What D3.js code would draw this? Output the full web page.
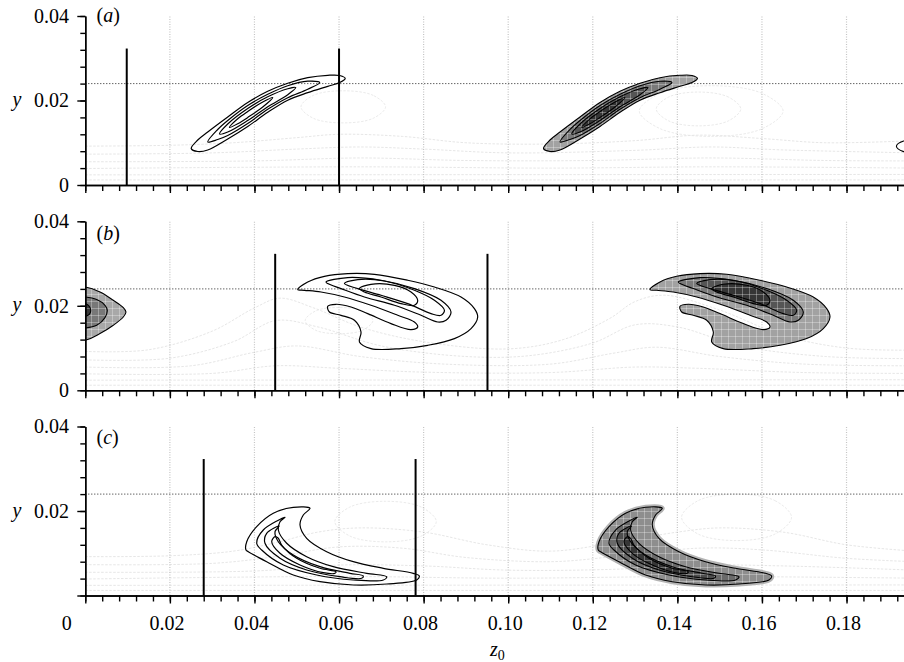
<!DOCTYPE html>
<html><head><meta charset="utf-8">
<script src="https://cdn.jsdelivr.net/npm/d3@7"></script>
<style>body{margin:0;background:#fff}svg{display:block}</style>
</head><body>
<svg id="c" width="904" height="662" font-family="'Liberation Serif','DejaVu Serif','Times New Roman',serif"></svg>
<script>
// ---------------- data ----------------
const panelLabels = ["a", "b", "c"];
const xMajorTicks = [0, 0.02, 0.04, 0.06, 0.08, 0.10, 0.12, 0.14, 0.16, 0.18];
const xTickLabels = ["0", "0.02", "0.04", "0.06", "0.08", "0.10", "0.12", "0.14", "0.16", "0.18"];
const yMajorTicks = [0, 0.02, 0.04];
const yTickLabels = ["0", "0.02", "0.04"];
const refLineY = 0.024;
const barTop = 0.0323;
const barsA = [0.0098, 0.0600];
const barsB = [0.0449, 0.0951];
const barsC = [0.0280, 0.0781];
const shift = 0.0833;   // distance between the open and the shaded contour sets

// panel (a): shaded contours (open set = same shapes, shifted back)
const aFill = [
 [[0.10835,0.00864],[0.10989,0.01065],[0.11225,0.01254],[0.11698,0.01609],[0.12171,0.01953],[0.12644,0.02218],[0.13117,0.02409],[0.13590,0.02540],[0.14063,0.02596],[0.14346,0.02592],[0.14476,0.02521],[0.14346,0.02426],[0.14063,0.02336],[0.13590,0.02185],[0.13117,0.02007],[0.12644,0.01721],[0.12171,0.01385],[0.11698,0.01089],[0.11225,0.00828],[0.10989,0.00793]],
 [[0.11225,0.01018],[0.11461,0.01314],[0.11698,0.01527],[0.12171,0.01882],[0.12644,0.02147],[0.13117,0.02350],[0.13590,0.02457],[0.13873,0.02426],[0.13590,0.02267],[0.13117,0.02066],[0.12644,0.01792],[0.12171,0.01456],[0.11698,0.01172],[0.11461,0.01077]],
 [[0.11502,0.01207],[0.11698,0.01444],[0.12171,0.01811],[0.12644,0.02088],[0.13117,0.02279],[0.13306,0.02308],[0.13117,0.02137],[0.12644,0.01851],[0.12171,0.01527],[0.11698,0.01254]],
 [[0.11738,0.01361],[0.11934,0.01567],[0.12171,0.01740],[0.12526,0.01964],[0.12762,0.02071],[0.12526,0.01846],[0.12171,0.01598],[0.11934,0.01449]]
];
const aEdge = [[0.200,0.0108],[0.1935,0.0104],[0.1918,0.0092],[0.1935,0.0079],[0.200,0.0076]];

// panel (b): shaded contours (open set = same shapes, shifted back)
const bFill = [
 [[0.13353,0.02384],[0.13589,0.02563],[0.13984,0.02698],[0.14535,0.02762],[0.15167,0.02746],[0.15954,0.02604],[0.16585,0.02445],[0.17214,0.02208],[0.17531,0.01934],[0.17609,0.01735],[0.17451,0.01460],[0.17058,0.01224],[0.16427,0.01065],[0.15796,0.00987],[0.15086,0.00987],[0.14812,0.01143],[0.14850,0.01380],[0.14694,0.01657],[0.14377,0.01775],[0.14103,0.01853],[0.14062,0.01988],[0.14259,0.02036],[0.14613,0.01972],[0.15008,0.01815],[0.15559,0.01579],[0.16032,0.01437],[0.16190,0.01498],[0.16112,0.01617],[0.15718,0.01775],[0.15086,0.02012],[0.14457,0.02208],[0.13904,0.02327],[0.13511,0.02367]],
 [[0.14022,0.02563],[0.14535,0.02668],[0.15323,0.02604],[0.16112,0.02407],[0.16741,0.02130],[0.16978,0.01853],[0.16860,0.01657],[0.16664,0.01617],[0.16269,0.01775],[0.15640,0.02012],[0.14930,0.02208],[0.14377,0.02407],[0.14062,0.02526]],
 [[0.14457,0.02526],[0.14772,0.02620],[0.15403,0.02587],[0.16112,0.02367],[0.16585,0.02130],[0.16822,0.01894],[0.16741,0.01775],[0.16505,0.01815],[0.15954,0.02052],[0.15323,0.02249],[0.14772,0.02407]],
 [[0.14812,0.02407],[0.15086,0.02509],[0.15640,0.02485],[0.16032,0.02327],[0.16190,0.02130],[0.16112,0.02012],[0.15796,0.02052],[0.15323,0.02208],[0.14930,0.02327]]
];
const bBlob = [
 [[-0.01,0.0245],[0,0.02445],[0.00348,0.02327],[0.00662,0.02130],[0.00899,0.01957],[0.00962,0.01853],[0.00899,0.01735],[0.00662,0.01539],[0.00348,0.01342],[0,0.01184],[-0.01,0.0118]],
 [[-0.01,0.0221],[0,0.02208],[0.00270,0.02147],[0.00466,0.02012],[0.00520,0.01894],[0.00466,0.01721],[0.00270,0.01539],[0,0.01475],[-0.01,0.0147]],
 [[-0.01,0.0205],[0,0.02052],[0.00095,0.01988],[0.00128,0.01877],[0.00095,0.01799],[0,0.01752],[-0.01,0.0175]]
];

// panel (c): open contours (shaded set = same shapes, shifted on)
const cOpen = [
 [[0.05313,0.02064],[0.04918,0.02088],[0.04445,0.01946],[0.04053,0.01629],[0.03817,0.01273],[0.03800,0.01077],[0.03854,0.01037],[0.04289,0.00800],[0.04918,0.00485],[0.05550,0.00327],[0.06337,0.00249],[0.07127,0.00272],[0.07836,0.00367],[0.07898,0.00462],[0.07756,0.00525],[0.07047,0.00644],[0.06337,0.00800],[0.05708,0.01037],[0.05235,0.01354],[0.05077,0.01669],[0.05155,0.01905]],
 [[0.04722,0.01851],[0.04209,0.01550],[0.04053,0.01236],[0.04171,0.01077],[0.04682,0.00722],[0.05472,0.00485],[0.06337,0.00367],[0.07047,0.00367],[0.07127,0.00445],[0.06654,0.00525],[0.05864,0.00682],[0.05235,0.00918],[0.04762,0.01236],[0.04564,0.01550],[0.04604,0.01747]],
 [[0.04587,0.01645],[0.04289,0.01472],[0.04249,0.01236],[0.04604,0.00881],[0.05235,0.00604],[0.06023,0.00445],[0.06536,0.00407],[0.06574,0.00462],[0.06259,0.00525],[0.05550,0.00682],[0.04918,0.00959],[0.04564,0.01273],[0.04486,0.01510]],
 [[0.04486,0.01392],[0.04408,0.01273],[0.04604,0.00999],[0.05077,0.00722],[0.05628,0.00540],[0.05905,0.00525],[0.05928,0.00563],[0.05550,0.00644],[0.04999,0.00881],[0.04644,0.01195],[0.04564,0.01354]]
];

// faint background contours
const bgA = [
 [[0,0.0092],[0.02,0.0094],[0.035,0.0100],[0.05,0.0112],[0.06,0.0120],[0.075,0.0115],[0.09,0.0100],[0.11,0.0097],[0.13,0.0105],[0.145,0.0118],[0.16,0.0110],[0.175,0.0100],[0.196,0.0105]],
 [[0,0.0073],[0.03,0.0076],[0.05,0.0085],[0.065,0.0090],[0.08,0.0085],[0.10,0.0076],[0.13,0.0082],[0.148,0.0090],[0.165,0.0083],[0.196,0.0076]],
 [[0,0.0055],[0.04,0.0057],[0.065,0.0064],[0.09,0.0058],[0.12,0.0058],[0.148,0.0064],[0.175,0.0058],[0.196,0.0057]],
 [[0,0.0039],[0.065,0.0043],[0.11,0.0040],[0.148,0.0043],[0.196,0.0040]],
 [[0,0.0024],[0.196,0.0025]],
 [[0,0.0012],[0.196,0.0012]]
];
const loopsA = [
 [[0.071,0.0185],[0.0681,0.0212],[0.061,0.0223],[0.0539,0.0212],[0.051,0.0185],[0.0539,0.0158],[0.061,0.0147],[0.0681,0.0158]],
 [[0.155,0.018],[0.1521,0.0208],[0.145,0.022],[0.1379,0.0208],[0.135,0.018],[0.1379,0.0152],[0.145,0.014],[0.1521,0.0152]],
 [[0.165,0.0175],[0.16,0.0217],[0.148,0.0235],[0.136,0.0217],[0.131,0.0175],[0.136,0.0133],[0.148,0.0115],[0.16,0.0133]]
];
const bgB = [
 [[0,0.0092],[0.015,0.0096],[0.03,0.0140],[0.040,0.0195],[0.046,0.0218],[0.054,0.0195],[0.065,0.0150],[0.08,0.0115],[0.10,0.0098],[0.113,0.0120],[0.124,0.0170],[0.130,0.0210],[0.137,0.0225],[0.15,0.019],[0.165,0.0130],[0.18,0.0100],[0.196,0.0095]],
 [[0,0.0072],[0.02,0.0076],[0.035,0.0115],[0.045,0.0165],[0.055,0.0150],[0.07,0.0105],[0.09,0.0080],[0.105,0.0082],[0.12,0.0112],[0.13,0.0155],[0.14,0.0150],[0.155,0.0105],[0.175,0.0080],[0.196,0.0075]],
 [[0,0.0055],[0.025,0.0058],[0.04,0.0090],[0.05,0.0105],[0.065,0.0080],[0.085,0.0062],[0.11,0.0062],[0.125,0.0088],[0.135,0.0102],[0.15,0.0080],[0.17,0.0062],[0.196,0.0058]],
 [[0,0.0039],[0.03,0.0040],[0.045,0.0058],[0.06,0.0052],[0.08,0.0043],[0.11,0.0042],[0.13,0.0055],[0.145,0.0052],[0.17,0.0042],[0.196,0.0040]],
 [[0,0.0024],[0.196,0.0025]],
 [[0,0.0012],[0.196,0.0012]]
];
const loopsB = [
 [[0.068,0.0165],[0.0655,0.0188],[0.060,0.0196],[0.0545,0.0188],[0.052,0.0165],[0.0545,0.0142],[0.060,0.0134],[0.0655,0.0142]]
];
const bgC = [
 [[0,0.0092],[0.02,0.0094],[0.035,0.0105],[0.045,0.0125],[0.055,0.0150],[0.065,0.0160],[0.08,0.0150],[0.095,0.0120],[0.11,0.0105],[0.125,0.0125],[0.14,0.0150],[0.15,0.0160],[0.165,0.0150],[0.18,0.0120],[0.196,0.0105]],
 [[0,0.0073],[0.03,0.0076],[0.045,0.0092],[0.06,0.0115],[0.075,0.0112],[0.09,0.0090],[0.11,0.0080],[0.125,0.0092],[0.145,0.0112],[0.16,0.0108],[0.18,0.0088],[0.196,0.0080]],
 [[0,0.0055],[0.04,0.0058],[0.06,0.0072],[0.08,0.0070],[0.10,0.0060],[0.125,0.0062],[0.145,0.0072],[0.165,0.0070],[0.196,0.0060]],
 [[0,0.0039],[0.06,0.0045],[0.1,0.0041],[0.145,0.0045],[0.196,0.0041]],
 [[0,0.0024],[0.196,0.0025]],
 [[0,0.0012],[0.196,0.0012]]
];
const loopsC = [
 [[0.083,0.0175],[0.0795,0.0209],[0.071,0.0223],[0.0625,0.0209],[0.059,0.0175],[0.0625,0.0141],[0.071,0.0127],[0.0795,0.0141]],
 [[0.167,0.0185],[0.1632,0.0224],[0.154,0.024],[0.1448,0.0224],[0.141,0.0185],[0.1448,0.0146],[0.154,0.013],[0.1632,0.0146]]
];

// ---------------- drawing ----------------
const FONT = "'Liberation Serif','DejaVu Serif','Times New Roman',serif";
const W = 904, H = 662, panelH = 169;
const bottoms = [185, 390.3, 595.5];
const labelBase = [22, 240, 444];
const xMax = 0.1935;
const x = d3.scaleLinear().domain([0, xMax]).range([85.3, 85.3 + xMax * 4229]);
const xMinor = d3.range(0, xMax, 0.004);
const yMinor = d3.range(0, 0.0401, 0.004);

const svg = d3.select("#c");
const defs = svg.append("defs");
const pat = defs.append("pattern").attr("id", "grid").attr("patternUnits", "userSpaceOnUse")
  .attr("width", 7).attr("height", 7);
pat.append("path").attr("d", "M0,0.5H7M0.5,0V7").attr("stroke", "#fff")
  .attr("stroke-opacity", 0.3).attr("stroke-width", 1).attr("fill", "none");

const shiftShape = (s, d) => s.map(p => [p[0] + d, p[1]]);
const shadesAB = ["#a2a2a2", "#7a7a7a", "#555555", "#363636"];
const shadesC = ["#8e8e8e", "#6a6a6a", "#4e4e4e", "#363636"];

const panels = [
  {open: aFill.map(s => shiftShape(s, -shift)), fill: aFill, bars: barsA, bg: bgA, loops: loopsA, shades: shadesAB, halo: false},
  {open: bFill.map(s => shiftShape(s, -shift)), fill: bFill, bars: barsB, bg: bgB, loops: loopsB, shades: shadesAB, halo: false},
  {open: cOpen, fill: cOpen.map(s => shiftShape(s, shift)), bars: barsC, bg: bgC, loops: loopsC, shades: shadesC, halo: true}
];

function txt(g, str, xx, yy, opts) {
  const t = g.append("text").attr("x", xx).attr("y", yy).attr("font-family", FONT)
    .attr("font-size", 20).attr("fill", "#000");
  if (opts && opts.anchor) t.attr("text-anchor", opts.anchor);
  if (opts && opts.italic) t.attr("font-style", "italic");
  if (str !== null) t.text(str);
  return t;
}

panels.forEach((p, i) => {
  const y = d3.scaleLinear().domain([0, 0.04]).range([bottoms[i], bottoms[i] - panelH]);
  const openLine = d3.line().x(d => x(d[0])).y(d => y(d[1])).curve(d3.curveCatmullRom.alpha(0.5));
  const closedLine = d3.line().x(d => x(d[0])).y(d => y(d[1])).curve(d3.curveCatmullRomClosed.alpha(0.5));

  const clipId = "clip" + i;
  defs.append("clipPath").attr("id", clipId).append("rect")
    .attr("x", x(0)).attr("y", y(0.04) - 1).attr("width", W - x(0)).attr("height", panelH + 1);
  const g = svg.append("g");
  const pg = g.append("g").attr("clip-path", `url(#${clipId})`);

  // faint background contours
  p.bg.forEach(l => pg.append("path").attr("d", openLine(l)).attr("fill", "none")
    .attr("stroke", "#e0e0e0").attr("stroke-width", 0.8).attr("stroke-dasharray", "2.5,1.5"));
  p.loops.forEach(l => pg.append("path").attr("d", closedLine(l)).attr("fill", "none")
    .attr("stroke", "#e4e4e4").attr("stroke-width", 0.8).attr("stroke-dasharray", "2.5,1.5"));

  // vertical dotted grid
  xMajorTicks.slice(1).forEach(v => pg.append("line")
    .attr("x1", x(v)).attr("x2", x(v)).attr("y1", y(0)).attr("y2", y(0.04))
    .attr("stroke", "#c4c4c4").attr("stroke-width", 1.2).attr("stroke-dasharray", "1,1.5"));

  // reference line
  pg.append("line").attr("x1", x(0)).attr("x2", W).attr("y1", y(refLineY)).attr("y2", y(refLineY))
    .attr("stroke", "#222").attr("stroke-width", 1).attr("stroke-dasharray", "1,2");

  // shaded contours
  if (p.halo) {
    pg.append("path").attr("d", closedLine(p.fill[0])).attr("fill", "#b4b4b4")
      .attr("stroke", "#b4b4b4").attr("stroke-width", 5).attr("stroke-linejoin", "round");
  }
  p.fill.forEach((s, k) => pg.append("path").attr("d", closedLine(s)).attr("fill", p.shades[k]));
  pg.append("path").attr("d", closedLine(p.fill[0])).attr("fill", "url(#grid)");
  p.fill.forEach(s => pg.append("path").attr("d", closedLine(s)).attr("fill", "none")
    .attr("stroke", "#000").attr("stroke-width", 1.1));

  if (i === 1) {
    const blobShades = ["#a8a8a8", "#787878", "#3a3a3a"];
    bBlob.forEach((s, k) => pg.append("path").attr("d", closedLine(s)).attr("fill", blobShades[k]));
    pg.append("path").attr("d", closedLine(bBlob[0])).attr("fill", "url(#grid)");
    bBlob.forEach(s => pg.append("path").attr("d", closedLine(s)).attr("fill", "none")
      .attr("stroke", "#000").attr("stroke-width", 1.1));
  }
  if (i === 0) {
    pg.append("path").attr("d", closedLine(aEdge)).attr("fill", "none")
      .attr("stroke", "#000").attr("stroke-width", 1.1);
  }

  // open contours
  p.open.forEach(s => pg.append("path").attr("d", closedLine(s)).attr("fill", "none")
    .attr("stroke", "#000").attr("stroke-width", 1.2));

  // vertical bars
  p.bars.forEach(v => g.append("line").attr("x1", x(v)).attr("x2", x(v))
    .attr("y1", y(0)).attr("y2", y(barTop)).attr("stroke", "#000").attr("stroke-width", 2));

  // axes
  const styleAxis = a => { a.selectAll("path,line").attr("stroke", "#000").attr("stroke-width", 1.4); a.selectAll("text").remove(); };
  g.append("g").attr("transform", `translate(${x(0)},0)`)
    .call(d3.axisLeft(y).tickValues(yMinor).tickSize(5).tickSizeOuter(0).tickFormat("")).call(styleAxis);
  g.append("g").attr("transform", `translate(${x(0)},0)`)
    .call(d3.axisLeft(y).tickValues(yMajorTicks).tickSize(8).tickSizeOuter(0).tickFormat("")).call(styleAxis);
  g.append("g").attr("transform", `translate(0,${y(0)})`)
    .call(d3.axisBottom(x).tickValues(xMinor).tickSize(6).tickSizeOuter(0).tickFormat("")).call(styleAxis);
  g.append("g").attr("transform", `translate(0,${y(0)})`)
    .call(d3.axisBottom(x).tickValues(xMajorTicks).tickSize(8).tickSizeOuter(0).tickFormat("")).call(styleAxis);

  // y tick labels
  yMajorTicks.forEach((v, k) => {
    if (i === 2 && v === 0) return;
    txt(g, yTickLabels[k], 69, y(v) + 6.8, {anchor: "end"});
  });
  // y axis title
  txt(g, "y", 17, y(0.02) + 5.5, {anchor: "middle", italic: true});
  // panel label
  const pl = txt(g, null, 96.5, labelBase[i]);
  pl.append("tspan").text("(");
  pl.append("tspan").attr("font-style", "italic").text(panelLabels[i]);
  pl.append("tspan").text(")");

  // x tick labels on bottom panel
  if (i === 2) {
    xMajorTicks.forEach((v, k) => {
      const dx = v === 0 ? -18.5 : -3;
      txt(g, xTickLabels[k], x(v) + dx, y(0) + 34.5, {anchor: "middle"});
    });
    const t = txt(g, null, 490, 655.5);
    t.append("tspan").attr("font-style", "italic").text("z");
    t.append("tspan").attr("font-size", 14).attr("dy", 4).text("0");
  }
});
</script>
</body></html>
